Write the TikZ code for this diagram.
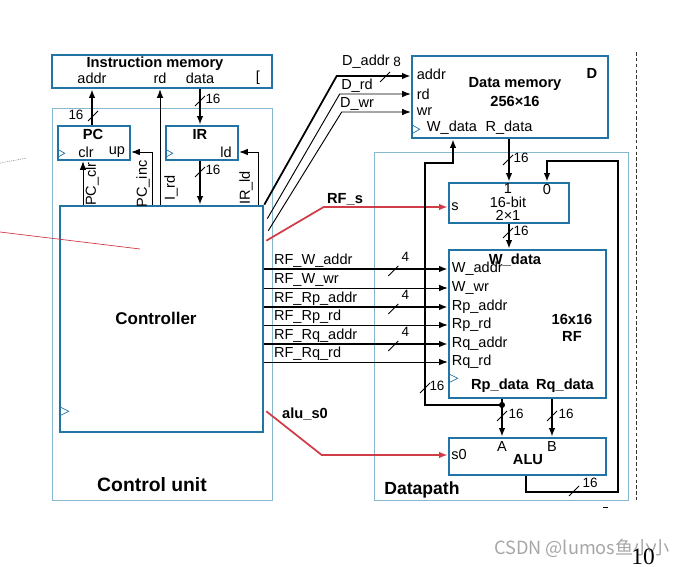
\documentclass[tikz,border=0pt]{standalone}
\usepackage{fontspec}
\setmainfont{Liberation Sans}
\newfontfamily\cjkfont{Noto Sans CJK SC}
\newfontfamily\pagefont{Liberation Serif}
\usepackage{xcolor}
\usepackage{tikz}
\usetikzlibrary{calc,arrows.meta,positioning}
\definecolor{bluex}{HTML}{2274A5}
\definecolor{framex}{HTML}{86B8CF}
\definecolor{redx}{HTML}{D03C48}
\tikzset{
  blk/.style={draw=bluex,line width=2.2pt,fill=white,inner sep=0pt},
  frm/.style={draw=framex,line width=0.8pt,inner sep=0pt},
  lbl/.style={inner sep=0.5pt,font=\fontsize{12.4}{13}\selectfont},
  ttl/.style={inner sep=0.5pt,font=\fontsize{12.5}{14}\selectfont\bfseries},
  wl/.style={inner sep=1pt,font=\fontsize{11.5}{12}\selectfont},
  sig/.style={-{Latex[length=2.6mm,width=2mm]},line width=0.8pt},
  bus/.style={sig,line width=1.5pt},
  ctl/.style={sig,redx,line width=1.5pt},
  tick/.style={line width=0.7pt},
  clk/.style={draw=bluex,line width=0.6pt}
}
% bus width mark: name, where, label offset, text
\newcommand{\wtick}[4]{%
  \draw[tick] ($(#2)+(-5,5)$) -- ($(#2)+(5,-5)$);
  \node[wl] (#1) at ($(#2)+(#3)$) {#4};}

\begin{document}
\begin{tikzpicture}[x=0.03cm,y=-0.03cm]
\useasboundingbox (0,0) rectangle (686,567);

% frames
\node[frm,minimum width=6.6cm,minimum height=11.76cm] (cu) at (162,304) {};
\node[frm,minimum width=7.62cm,minimum height=10.44cm] (dp) at (501,326) {};
\node[ttl,font=\fontsize{16.5}{18}\selectfont\bfseries] (cutitle) at (152,485) {Control unit};
\node[ttl,font=\fontsize{15}{17}\selectfont\bfseries] (dptitle) at (422,490) {Datapath};

% blocks
\node[blk,minimum width=6.6cm,minimum height=0.99cm] (imem) at (162,71.5) {};
\node[blk,minimum width=2.16cm,minimum height=1.02cm] (pc) at (94,143) {};
\node[blk,minimum width=2.16cm,minimum height=1.02cm] (ir) at (202,143) {};
\node[blk,minimum width=6.09cm,minimum height=6.78cm] (ctrl) at (161.5,319) {};
\node[blk,minimum width=5.88cm,minimum height=2.46cm] (dmem) at (510,97) {};
\node[blk,minimum width=3.6cm,minimum height=1.2cm] (mux) at (509,203) {};
\node[blk,minimum width=4.71cm,minimum height=4.44cm] (rf) at (527.5,324) {};
\node[blk,minimum width=4.71cm,minimum height=1.11cm] (alu) at (527.5,456.5) {};

% block texts
\node[ttl] (imtitle) at (155,64) {Instruction memory};
\node[lbl] (imaddr) at (92,78) {addr};
\node[lbl] (imrd) at (160,78) {rd};
\node[lbl] (imdata) at (200,78) {data};
\node[lbl] (imbr) at (258,78) {[};
\node[ttl] (pctitle) at (93,134) {PC};
\node[lbl] (pcclr) at (86,152) {clr};
\node[lbl] (pcup) at (117,152) {up};
\node[ttl] (irtitle) at (200,134) {IR};
\node[lbl] (irld) at (226,152) {ld};
\node[ttl,font=\fontsize{14.5}{16}\selectfont\bfseries] (ctrltitle) at (156,318) {Controller};
\node[ttl] (dmtitle) at (515,84) {Data memory};
\node[ttl] (dmsize) at (515,101) {256×16};
\node[ttl] (dmd) at (592,73) {D};
\node[lbl,anchor=west] (dmaddr) at (416,74) {addr};
\node[lbl,anchor=west] (dmrd) at (416,94) {rd};
\node[lbl,anchor=west] (dmwr) at (416,112) {wr};
\node[lbl] (dmwdata) at (452,128) {W\_data};
\node[lbl] (dmrdata) at (509,128) {R\_data};
\node[lbl] (mux1) at (508,189) {1};
\node[lbl] (mux0) at (547,190) {0};
\node[lbl] (muxtitle) at (508,202) {16-bit};
\node[lbl] (muxsize) at (508,215) {2×1};
\node[lbl] (muxs) at (455,207) {s};
\node[ttl] (rfwdata) at (515,260) {W\_data};
\node[lbl,anchor=west] (rfwa) at (451,269) {W\_addr};
\node[lbl,anchor=west] (rfww) at (451,288) {W\_wr};
\node[lbl,anchor=west] (rfpa) at (451,307) {Rp\_addr};
\node[lbl,anchor=west] (rfpr) at (451,325) {Rp\_rd};
\node[lbl,anchor=west] (rfqa) at (451,344) {Rq\_addr};
\node[lbl,anchor=west] (rfqr) at (451,362) {Rq\_rd};
\node[ttl,align=center] (rftitle) at (572,328) {16x16\\RF};
\node[ttl] (rfpd) at (500,386) {Rp\_data};
\node[ttl] (rfqd) at (565,386) {Rq\_data};
\node[lbl] (alus) at (459,455) {s0};
\node[lbl] (alua) at (502,447) {A};
\node[lbl] (alub) at (552,447) {B};
\node[ttl] (alutitle) at (528,460) {ALU};

% clock marks
\draw[clk] ($(pc.south west)+(1,-12)$) -- ++(7,4) -- ++(-7,4);
\draw[clk] ($(ir.south west)+(1,-12)$) -- ++(7,4) -- ++(-7,4);
\draw[clk] ($(ctrl.south west)+(2,-26)$) -- ++(8,4) -- ++(-8,4);
\draw[clk] ($(dmem.south west)+(2,-14)$) -- ++(7,4) -- ++(-7,4);
\draw[clk] ($(rf.south west)+(2,-25)$) -- ++(8,4) -- ++(-8,4);

% control unit wiring
\coordinate (pcincx) at (152,206);
\coordinate (irldx) at (258,206);
\draw[bus] (pc.north -| imaddr) -- (imem.south -| imaddr);
\draw[sig] (ctrl.north -| imrd) -- (imem.south -| imrd);
\draw[bus] (imem.south -| imdata) -- (ir.north -| imdata);
\draw[bus] (ir.south -| imdata) -- (ctrl.north -| imdata);
\draw[sig] (ctrl.north -| 83,0) -- (pc.south -| 83,0);
\draw[sig] (ctrl.north -| pcincx) |- (pc.east |- pcup);
\draw[sig] (ctrl.north -| irldx) |- (ir.east |- irld);
\wtick{w1}{93,116}{-17,-1}{16}
\wtick{w2}{200,101}{13,-2}{16}
\wtick{w3}{200,172}{13,-2}{16}
\node[lbl,rotate=90] (lpcclr) at (92,184) {PC\_clr};
\node[lbl,rotate=90] (lpcinc) at (143,184) {PC\_inc};
\node[lbl,rotate=90] (lird) at (171,188) {I\_rd};
\node[lbl,rotate=90] (lirld) at (246,188) {IR\_ld};

% data memory control
\draw[bus] (ctrl.north east) -- ($(dmem.west |- dmaddr)+(-74,2)$) -- ($(dmem.west |- dmaddr)+(0,2)$);
\draw[sig] ($(ctrl.north east)+(3,14)$) -- ($(dmem.west |- dmrd)+(-71,0)$) -- (dmem.west |- dmrd);
\draw[sig] ($(ctrl.north east)+(4,26)$) -- ($(dmem.west |- dmwr)+(-69,0)$) -- (dmem.west |- dmwr);
\node[lbl] (ldaddr) at (366,62) {D\_addr};
\node[lbl] (ldrd) at (357,86) {D\_rd};
\node[lbl] (ldwr) at (357,104) {D\_wr};
\wtick{w4}{385,77}{12,-15}{8}

% register file control
\foreach \p/\lab/\s in {rfwa/RF\_W\_addr/bus,rfww/RF\_W\_wr/sig,rfpa/RF\_Rp\_addr/bus,
    rfpr/RF\_Rp\_rd/sig,rfqa/RF\_Rq\_addr/bus,rfqr/RF\_Rq\_rd/sig}{
  \draw[\s] (ctrl.east |- \p) -- (rf.west |- \p);
  \node[lbl,anchor=base west] (l\p) at ($(ctrl.east |- \p)+(9,-4)$) {\lab};
}
\foreach \p in {rfwa,rfpa,rfqa}{
  \coordinate (tk\p) at ($(ctrl.east |- \p)+(129,2)$);
  \wtick{w\p}{tk\p}{12,-14}{4}
}

% select lines
\draw[ctl] ($(ctrl.north east)+(2,36)$) -- ($(mux.west |- muxs)+(-124,0)$) -- (mux.west |- muxs);
\node[ttl] (lrfs) at (345,199) {RF\_s};
\draw[ctl] ($(ctrl.south east)+(2,-22)$) -- ($(alu.west |- alus)+(-126,0)$) -- (alu.west |- alus);
\node[ttl] (lalus) at (305,414) {alu\_s0};

% datapath
\coordinate (tapA) at (502,405);
\coordinate (loopl) at (425,163);
\coordinate (wdx) at (453,138);
\coordinate (rqx) at (552,398);
\coordinate (fbx) at (526,475);
\coordinate (fbr) at (618,492);
\draw[bus] (dmem.south -| dmrdata) -- (mux.north -| dmrdata);
\draw[bus] (mux.south -| dmrdata) -- (rf.north -| dmrdata);
\draw[bus] (alu.south -| fbx) |- (fbr) |- ($(mux.north -| mux0)+(0,-21)$) -- (mux.north -| mux0);
\draw[bus] (rf.south -| tapA) -- (alu.north -| tapA);
\draw[bus] (tapA) -| (loopl) -| (dmem.south -| wdx);
\draw[bus] (rf.south -| rqx) -- (alu.north -| rqx);
\fill (tapA) circle (2.6pt);
\wtick{w5}{508,160}{13,-2}{16}
\wtick{w6}{508,233}{13,-2}{16}
\wtick{w7}{425,388}{12,-2}{16}
\wtick{w8}{502,416}{14,-2}{16}
\wtick{w9}{552,416}{14,-2}{16}
\wtick{w10}{574,491}{16,-8}{16}

% page marks
\coordinate (dtop) at (636,52);
\coordinate (dbot) at (636,500);
\draw[densely dashed,line width=0.8pt,black!80] (dtop) -- (dbot);
\draw[line width=0.8pt] (603,507) -- (608,507);
\coordinate (pa) at (0,232);
\coordinate (pb) at (140,249);
\draw[redx,line width=0.6pt] (pa) -- (pb);
\coordinate (pc1) at (0,163);
\coordinate (pc2) at (27,158);
\draw[black!50,densely dotted,line width=0.6pt] (pc1) -- (pc2);
\node[inner sep=0pt,text=black!35,font=\cjkfont\fontsize{15.5}{17}\selectfont] (wm) at (582,548) {CSDN @lumos鱼小小};
\node[inner sep=0pt,font=\pagefont\fontsize{20}{22}\selectfont] (pgno) at (643,557) {10};
\end{tikzpicture}
\end{document}
